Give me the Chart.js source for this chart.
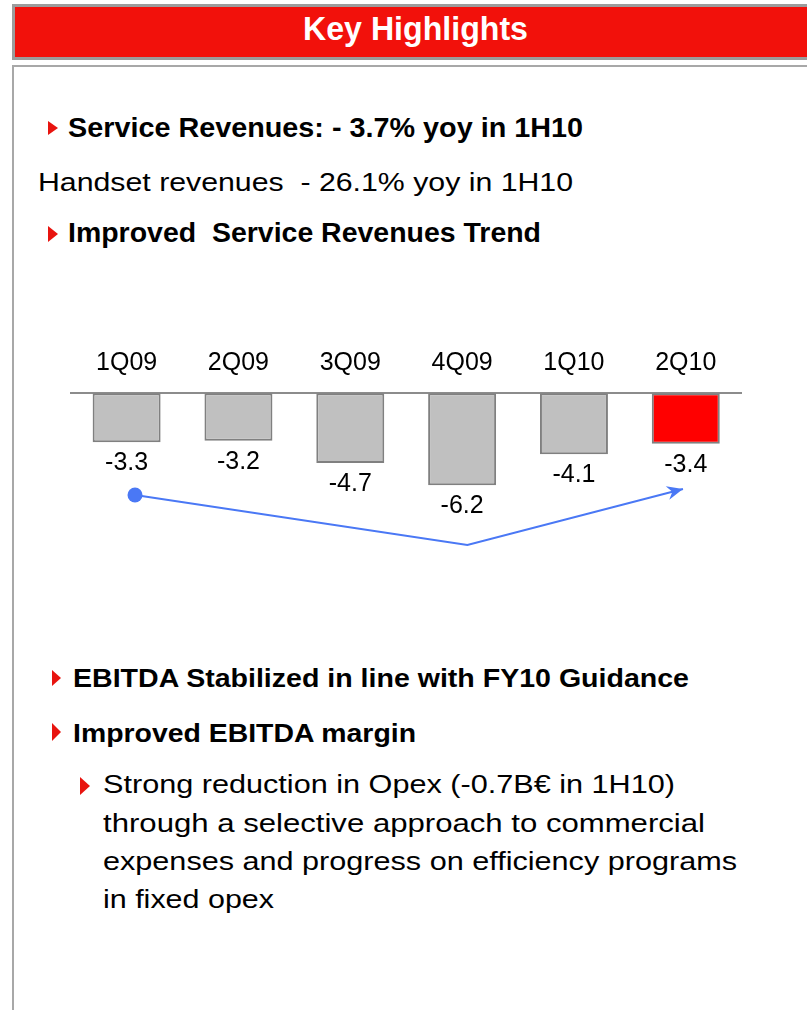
<!DOCTYPE html>
<html>
<head>
<meta charset="utf-8">
<title>Key Highlights</title>
<script src="https://cdn.jsdelivr.net/npm/chart.js@4.4.1/dist/chart.umd.min.js"></script>
<style>
  body { margin: 0; width: 807px; height: 1010px; background: #fff; position: relative; overflow: hidden;
         font-family: "Liberation Sans", Arial, sans-serif; color: #000; }
  .hdr { position: absolute; left: 12px; top: 4px; width: 820px; height: 50px; background: #f2110b; border: 3px solid #9c9c9c; }
  .box { position: absolute; left: 12px; top: 65px; width: 830px; height: 980px; border: 2px solid #a8a8a8; }
  .t { position: absolute; white-space: pre; line-height: 1; transform-origin: 0 0; }
  .b { font-weight: bold; }
  .tri { position: absolute; width: 0; height: 0; border-style: solid; border-color: transparent transparent transparent #e8140f; }
  #wrap { position: absolute; left: 60px; top: 330px; width: 700px; height: 250px; }
</style>
</head>
<body>
<div class="hdr"></div>
<div class="box"></div>
<div class="t b" data-w="225" style="left:303px;top:12px;font-size:33px;color:#fff">Key Highlights</div>

<div class="tri" style="left:48px;top:121px;border-width:7.5px 0 7.5px 10px"></div>
<div class="t b" data-w="515" style="left:68px;top:113.6px;font-size:28px">Service Revenues: - 3.7% yoy in 1H10</div>
<div class="t" data-w="535" style="left:38px;top:169.8px;font-size:25px">Handset revenues  - 26.1% yoy in 1H10</div>
<div class="tri" style="left:48px;top:226px;border-width:8px 0 8px 10px"></div>
<div class="t b" data-w="473" style="left:68px;top:220.4px;font-size:27px">Improved  Service Revenues Trend</div>

<div id="wrap"><canvas id="myChart"></canvas></div>

<div class="tri" style="left:52px;top:670px;border-width:8.5px 0 8.5px 9px"></div>
<div class="t b" data-w="616" style="left:73px;top:666.1px;font-size:25px">EBITDA Stabilized in line with FY10 Guidance</div>
<div class="tri" style="left:52px;top:723px;border-width:9px 0 9px 9px"></div>
<div class="t b" data-w="343" style="left:73px;top:720.5px;font-size:25px">Improved EBITDA margin</div>
<div class="tri" style="left:80px;top:777px;border-width:9px 0 9px 10px"></div>
<div class="t" data-w="572" style="left:102.5px;top:772.4px;font-size:25.5px">Strong reduction in Opex (-0.7B€ in 1H10)</div>
<div class="t" data-w="602" style="left:102.5px;top:810.7px;font-size:25.5px">through a selective approach to commercial</div>
<div class="t" data-w="634" style="left:102.5px;top:849px;font-size:25.5px">expenses and progress on efficiency programs</div>
<div class="t" data-w="171" style="left:102.5px;top:887.4px;font-size:25.5px">in fixed opex</div>

<script>
"use strict";

const quarters = ['1Q09', '2Q09', '3Q09', '4Q09', '1Q10', '2Q10'];
const serviceRevenuesYoy = [-3.3, -3.2, -4.7, -6.2, -4.1, -3.4];
const barColors = ['#c0c0c0', '#c0c0c0', '#c0c0c0', '#c0c0c0', '#c0c0c0', '#ff0000'];
// trend arrow: from 1Q09 dip down to 4Q09 and back up to 2Q10 (x in category units)
const trendX = [0.075, 3.047, 4.975];
const trendY = [-6.85, -10.22, -6.44];

// stretch every text line to the width it has on the slide
document.querySelectorAll('.t').forEach(el => {
    const w = el.getBoundingClientRect().width;
    el.style.transform = 'scaleX(' + (parseFloat(el.dataset.w) / w) + ')';
});

const valueLabels = {
    id: 'valueLabels',
    afterDatasetsDraw(chart) {
        const ctx = chart.ctx;
        const meta = chart.getDatasetMeta(0);
        ctx.save();
        ctx.font = '25px "Liberation Sans", Arial, sans-serif';
        ctx.fillStyle = '#000';
        ctx.textAlign = 'center';
        ctx.textBaseline = 'middle';
        meta.data.forEach((bar, i) => {
            ctx.fillText(serviceRevenuesYoy[i].toFixed(1), bar.x, bar.y + 21);
        });
        ctx.restore();
    }
};

const arrowHead = {
    id: 'arrowHead',
    afterDatasetsDraw(chart) {
        const pts = chart.getDatasetMeta(1).data;
        const a = pts[pts.length - 2], b = pts[pts.length - 1];
        const ang = Math.atan2(b.y - a.y, b.x - a.x);
        const ctx = chart.ctx;
        ctx.save();
        ctx.translate(b.x, b.y);
        ctx.rotate(ang);
        ctx.fillStyle = '#4a78f5';
        ctx.beginPath();
        ctx.moveTo(0, 0);
        ctx.lineTo(-16, -7);
        ctx.lineTo(-11, 0);
        ctx.lineTo(-16, 7);
        ctx.closePath();
        ctx.fill();
        ctx.restore();
    }
};

const ctx = document.getElementById('myChart');

new Chart(ctx, {
    type: 'bar',
    data: {
        labels: quarters,
        datasets: [{
            type: 'bar',
            data: serviceRevenuesYoy,
            backgroundColor: barColors,
            borderColor: '#808080',
            borderWidth: 2,
            borderSkipped: false,
            grouped: false,
            barPercentage: 0.608,
            categoryPercentage: 1,
            xAxisID: 'x',
            order: 2
        }, {
            type: 'line',
            data: trendX.map((x, i) => ({ x: x, y: trendY[i] })),
            borderColor: '#4a78f5',
            borderWidth: 2,
            pointRadius: [7.5, 0, 0],
            pointBackgroundColor: '#4a78f5',
            pointBorderWidth: 0,
            tension: 0,
            xAxisID: 'xa',
            order: 1
        }]
    },
    options: {
        responsive: true,
        maintainAspectRatio: false,
        animation: false,
        layout: { padding: { left: 10.7, right: 18.3, top: 0, bottom: 8.5 } },
        plugins: { legend: { display: false }, tooltip: { enabled: false } },
        scales: {
            x: {
                position: 'top',
                grid: { display: false, drawTicks: false },
                border: { display: true, color: '#8c8c8c', width: 2 },
                ticks: { color: '#000', padding: 15, font: { size: 25, family: '"Liberation Sans", Arial, sans-serif' } },
                afterFit(axis) { axis.height = 63.3; }
            },
            xa: { type: 'linear', display: false, offset: false, min: -0.5, max: 5.5 },
            y: { display: false, min: -12, max: 0 }
        }
    },
    plugins: [valueLabels, arrowHead]
});
</script>
</body>
</html>
